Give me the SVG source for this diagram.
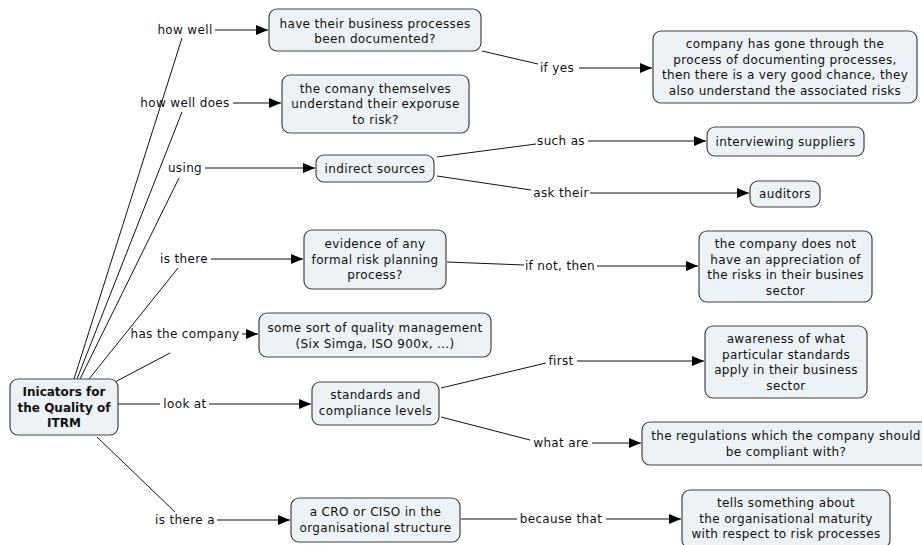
<svg xmlns="http://www.w3.org/2000/svg" width="922" height="545" viewBox="0 0 922 545">
  <defs>
    <marker id="arrow" viewBox="0 0 12 10" refX="12" refY="5" markerWidth="12" markerHeight="10" markerUnits="userSpaceOnUse" orient="auto">
      <path d="M0,0 L12,5 L0,10 Z" fill="#000"/>
    </marker>
    <style>
      .node rect { fill: #ecf2f5; stroke: #444; stroke-width: 1.2; }
      .node text, .lp { font-family: "DejaVu Sans", Verdana, sans-serif; font-size: 12px; letter-spacing: 0.35px; fill: #111; text-anchor: middle; }
      .root text { font-weight: bold; letter-spacing: 0; }
      #connectors line { stroke: #111; stroke-width: 1; fill: none; }
      .arr { marker-end: url(#arrow); }
    </style>
  </defs>

  <rect width="922" height="545" fill="#fff"/>

  <!-- connectors -->
  <g id="connectors">
    <!-- root to linking phrases -->
    <line x1="74" y1="379" x2="182" y2="38"/>
    <line x1="77" y1="379" x2="182" y2="112"/>
    <line x1="80" y1="379" x2="179" y2="178"/>
    <line x1="89" y1="379" x2="178" y2="268"/>
    <line x1="115" y1="382" x2="170" y2="353"/>
    <line x1="118" y1="404" x2="160" y2="404"/>
    <line x1="97" y1="437" x2="175" y2="512"/>

    <!-- linking phrases to concepts -->
    <line class="arr" x1="215" y1="30" x2="268" y2="30"/>
    <line class="arr" x1="233" y1="103" x2="281" y2="103"/>
    <line class="arr" x1="205" y1="168" x2="315" y2="168"/>
    <line class="arr" x1="211" y1="259" x2="303" y2="259"/>
    <line class="arr" x1="242" y1="334" x2="258" y2="334"/>
    <line class="arr" x1="209" y1="404" x2="311" y2="404"/>
    <line class="arr" x1="217" y1="520" x2="290" y2="520"/>

    <!-- second level -->
    <line x1="482" y1="51" x2="538" y2="64"/>
    <line class="arr" x1="579" y1="68" x2="652" y2="68"/>

    <line x1="437" y1="157" x2="536" y2="144"/>
    <line class="arr" x1="588" y1="141" x2="706" y2="141"/>

    <line x1="437" y1="176" x2="531" y2="190"/>
    <line class="arr" x1="590" y1="193" x2="749" y2="193"/>

    <line x1="447" y1="262" x2="524" y2="265"/>
    <line class="arr" x1="597" y1="266" x2="698" y2="266"/>

    <line x1="441" y1="388" x2="546" y2="363"/>
    <line class="arr" x1="577" y1="361" x2="704" y2="361"/>

    <line x1="441" y1="417" x2="530" y2="440"/>
    <line class="arr" x1="592" y1="443" x2="641" y2="443"/>

    <line x1="461" y1="519" x2="517" y2="519"/>
    <line class="arr" x1="606" y1="519" x2="681" y2="519"/>
  </g>

  <!-- linking phrases -->
  <g id="linking-phrases">
    <text class="lp" x="185" y="34">how well</text>
    <text class="lp" x="185" y="107">how well does</text>
    <text class="lp" x="185" y="172">using</text>
    <text class="lp" x="184" y="263">is there</text>
    <text class="lp" x="185" y="338">has the company</text>
    <text class="lp" x="185" y="408">look at</text>
    <text class="lp" x="185" y="524">is there a</text>
    <text class="lp" x="557" y="72">if yes</text>
    <text class="lp" x="561" y="145">such as</text>
    <text class="lp" x="561" y="197">ask their</text>
    <text class="lp" x="560" y="270">if not, then</text>
    <text class="lp" x="561" y="365">first</text>
    <text class="lp" x="561" y="447">what are</text>
    <text class="lp" x="561" y="523">because that</text>
  </g>

  <!-- concepts -->
  <g id="root" class="node root">
    <rect x="10" y="379" width="108" height="56" rx="8"/>
    <text x="64" y="396">Inicators for</text>
    <text x="64" y="411.5">the Quality of</text>
    <text x="64" y="427">ITRM</text>
  </g>

  <g id="n-documented" class="node">
    <rect x="269" y="9" width="212" height="42" rx="8"/>
    <text x="375" y="27.5">have their business processes</text>
    <text x="375" y="43">been documented?</text>
  </g>

  <g id="n-exposure" class="node">
    <rect x="282" y="75" width="187" height="58" rx="8"/>
    <text x="375.5" y="92.5">the comany themselves</text>
    <text x="375.5" y="108">understand their exporuse</text>
    <text x="375.5" y="123.5">to risk?</text>
  </g>

  <g id="n-gone-through" class="node">
    <rect x="653" y="31" width="264" height="72" rx="8"/>
    <text x="785" y="48">company has gone through the</text>
    <text x="785" y="63.5">process of documenting processes,</text>
    <text x="785" y="79">then there is a very good chance, they</text>
    <text x="785" y="94.5">also understand the associated risks</text>
  </g>

  <g id="n-indirect" class="node">
    <rect x="316" y="155" width="118" height="27" rx="8"/>
    <text x="375" y="172.5">indirect sources</text>
  </g>

  <g id="n-suppliers" class="node">
    <rect x="707" y="127" width="157" height="29" rx="8"/>
    <text x="785.5" y="145.5">interviewing suppliers</text>
  </g>

  <g id="n-auditors" class="node">
    <rect x="750" y="181" width="70" height="26" rx="8"/>
    <text x="785" y="198">auditors</text>
  </g>

  <g id="n-no-appreciation" class="node">
    <rect x="699" y="231" width="173" height="71" rx="8"/>
    <text x="785.5" y="248">the company does not</text>
    <text x="785.5" y="263.5">have an appreciation of</text>
    <text x="785.5" y="279">the risks in their busines</text>
    <text x="785.5" y="294.5">sector</text>
  </g>

  <g id="n-evidence" class="node">
    <rect x="304" y="230" width="142" height="59" rx="8"/>
    <text x="375" y="248">evidence of any</text>
    <text x="375" y="263.5">formal risk planning</text>
    <text x="375" y="279">process?</text>
  </g>

  <g id="n-quality" class="node">
    <rect x="259" y="313" width="232" height="44" rx="8"/>
    <text x="375" y="332">some sort of quality management</text>
    <text x="375" y="347.5">(Six Simga, ISO 900x, ...)</text>
  </g>

  <g id="n-standards" class="node">
    <rect x="312" y="382" width="127" height="43" rx="8"/>
    <text x="375.5" y="399">standards and</text>
    <text x="375.5" y="414.5">compliance levels</text>
  </g>

  <g id="n-awareness" class="node">
    <rect x="705" y="326" width="162" height="72" rx="8"/>
    <text x="786" y="343">awareness of what</text>
    <text x="786" y="358.5">particular standards</text>
    <text x="786" y="374">apply in their business</text>
    <text x="786" y="389.5">sector</text>
  </g>

  <g id="n-regulations" class="node">
    <rect x="642" y="422" width="288" height="43" rx="8"/>
    <text x="786" y="440">the regulations which the company should</text>
    <text x="786" y="455.5">be compliant with?</text>
  </g>

  <g id="n-cro" class="node">
    <rect x="291" y="498" width="169" height="44" rx="8"/>
    <text x="375.5" y="516">a CRO or CISO in the</text>
    <text x="375.5" y="531.5">organisational structure</text>
  </g>

  <g id="n-maturity" class="node">
    <rect x="682" y="490" width="208" height="58" rx="8"/>
    <text x="786" y="507">tells something about</text>
    <text x="786" y="522.5">the organisational maturity</text>
    <text x="786" y="538">with respect to risk processes</text>
  </g>
</svg>
